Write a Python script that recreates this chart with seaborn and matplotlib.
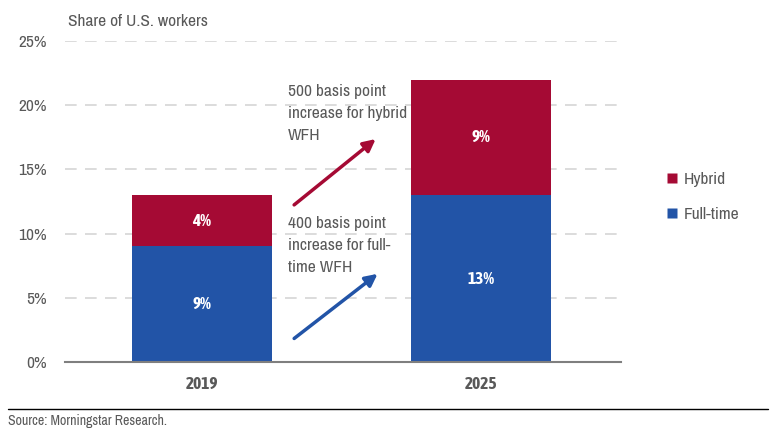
import matplotlib
matplotlib.use("Agg")
import matplotlib.pyplot as plt
from matplotlib.lines import Line2D
from matplotlib import font_manager as fm
import seaborn as sns
import pandas as pd

years = ["2019", "2025"]
full_time = [9, 13]
hybrid = [4, 9]
yticks = [0, 5, 10, 15, 20, 25]

RED = "#A50A34"
BLUE = "#2254A7"
GRAY = "#595959"

sns.set_theme(style="white")
faces = fm.fontManager.ttflist
cond = sorted({f.name for f in faces if ("Narrow" in f.name or "Condensed" in f.name)})
def _w(w):
    try:
        return int(w)
    except Exception:
        return 700 if str(w).lower() in ("bold", "heavy", "black", "demibold", "semibold") else 400
cond_bold = sorted({f.name for f in faces
                    if ("Narrow" in f.name or "Condensed" in f.name) and _w(f.weight) >= 600})
plt.rcParams["font.family"] = (cond[:1] if cond else []) + ["Roboto", "DejaVu Sans"]
BOLD_FAMILY = (cond_bold[:1] if cond_bold else []) + ["Roboto", "DejaVu Sans"]

df = pd.DataFrame({"year": years, "full": full_time, "hybrid": hybrid})
df["total"] = df["full"] + df["hybrid"]

fig = plt.figure(figsize=(7.77, 4.36), dpi=100)
ax = fig.add_axes([0.0837, 0.1697, 0.7153, 0.7363])

sns.barplot(data=df, x="year", y="total", color=RED, width=0.5, ax=ax,
            saturation=1, edgecolor="none", linewidth=0)
sns.barplot(data=df, x="year", y="full", color=BLUE, width=0.5, ax=ax,
            saturation=1, edgecolor="none", linewidth=0)

ax.set_ylim(0, 25)
ax.set_xlim(-0.49, 1.5)
ax.set_yticks(yticks)
ax.set_yticklabels([f"{t}%" for t in yticks])
ax.set_xlabel("")
ax.set_ylabel("")
for t in yticks[1:]:
    ax.axhline(t, color="#D6D6D6", lw=1.2, ls=(0, (7, 5)), zorder=0)
ax.set_axisbelow(True)
for s in ["top", "right", "left"]:
    ax.spines[s].set_visible(False)
ax.spines["bottom"].set_color("#7F7F7F")
ax.spines["bottom"].set_linewidth(1.5)
ax.tick_params(axis="both", length=0, labelsize=12.5, colors=GRAY)
ax.tick_params(axis="y", pad=13)
ax.tick_params(axis="x", pad=10)
for lab in ax.get_xticklabels():
    lab.set_fontweight("bold")
    lab.set_family(BOLD_FAMILY)

for i in range(len(years)):
    ax.text(i, full_time[i] / 2, f"{full_time[i]}%", ha="center", va="center",
            color="white", fontsize=12.5, fontweight="bold", family=BOLD_FAMILY)
    ax.text(i, full_time[i] + hybrid[i] / 2, f"{hybrid[i]}%", ha="center", va="center",
            color="white", fontsize=12.5, fontweight="bold", family=BOLD_FAMILY)

ax.annotate("", xy=(0.63, 17.5), xytext=(0.3225, 12.1),
            arrowprops=dict(arrowstyle="-|>", color=RED, lw=2.5, mutation_scale=18))
ax.annotate("", xy=(0.637, 7.0), xytext=(0.3225, 1.7),
            arrowprops=dict(arrowstyle="-|>", color=BLUE, lw=2.5, mutation_scale=18))
fig.text(288 / 777, 1 - 84 / 436, "500 basis point\nincrease for hybrid\nWFH",
         ha="left", va="top", fontsize=12.5, color=GRAY, linespacing=1.6)
fig.text(288 / 777, 1 - 216 / 436, "400 basis point\nincrease for full-\ntime WFH",
         ha="left", va="top", fontsize=12.5, color=GRAY, linespacing=1.6)

fig.text(68 / 777, 1 - 22 / 436, "Share of U.S. workers", ha="left", va="center",
         fontsize=12.5, color=GRAY)

handles = [Line2D([0], [0], marker="s", color="none", markerfacecolor=RED,
                  markeredgecolor="none", markersize=7),
           Line2D([0], [0], marker="s", color="none", markerfacecolor=BLUE,
                  markeredgecolor="none", markersize=7)]
leg = fig.legend(handles, ["Hybrid", "Full-time"], loc="center left",
                 bbox_to_anchor=(649 / 777, 1 - 197 / 436), frameon=False,
                 fontsize=12.5, handlelength=0.8, handletextpad=0.3, labelspacing=1.1)
for t in leg.get_texts():
    t.set_color(GRAY)

fig.add_artist(Line2D([8 / 777, 768 / 777], [1 - 409 / 436, 1 - 409 / 436],
                      color="black", lw=1))
fig.text(8 / 777, 1 - 421 / 436, "Source: Morningstar Research.", ha="left",
         va="center", fontsize=10, color=GRAY)

fig.savefig("out.png", dpi=100)
